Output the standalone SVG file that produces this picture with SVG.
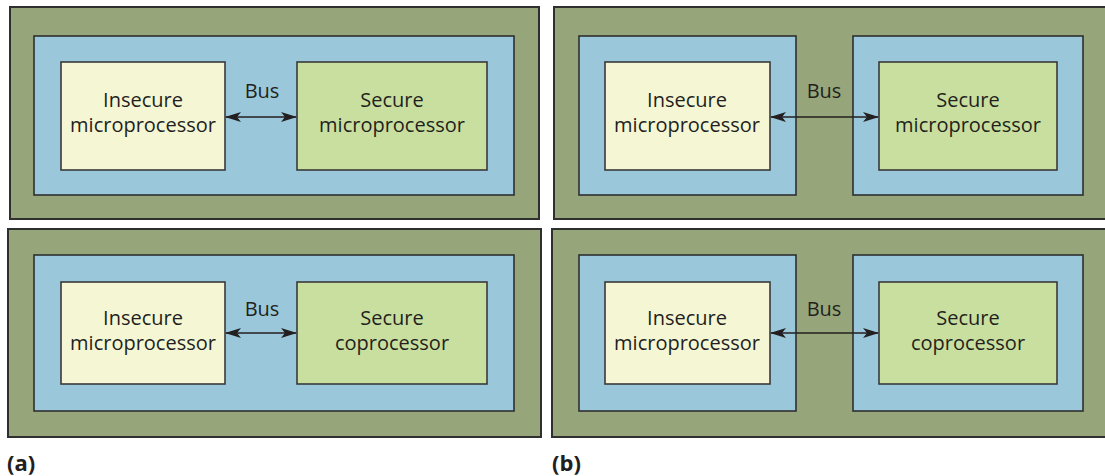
<svg xmlns="http://www.w3.org/2000/svg" width="1105" height="476" viewBox="0 0 1105 476">
<style>
.outer{fill:#97a67a;stroke:#2f2f2f;stroke-width:2}
.blue{fill:#9ac8da;stroke:#2f2f2f;stroke-width:1.6}
.ins{fill:#f5f6d4;stroke:#3a3a3a;stroke-width:1.6}
.sec{fill:#c9df9f;stroke:#3a3a3a;stroke-width:1.6}
.t{font-family:"Open Sans","Liberation Sans",sans-serif;font-size:20px;fill:#231f20;text-anchor:middle}
.lbl{font-family:"Open Sans","Liberation Sans",sans-serif;font-size:22px;font-weight:bold;fill:#231f20}
.bus{stroke:#231f20;stroke-width:1.6;fill:none;marker-start:url(#ah);marker-end:url(#ah)}
</style>
<defs>
<marker id="ah" viewBox="0 0 16 10" refX="15" refY="5" markerWidth="16" markerHeight="10" markerUnits="userSpaceOnUse" orient="auto-start-reverse">
<path d="M0,0 L16,5 L0,10 L4,5 Z" fill="#231f20"/>
</marker>
</defs>
<g id="panel-a-top">
<rect class="outer" x="10" y="7" width="529" height="212"/>
<rect class="blue" x="34" y="36" width="480" height="159"/>
</g>
<g id="a-top-insecure">
<rect class="ins" x="61" y="62" width="164" height="108"/>
<text class="t" x="143" y="107">Insecure</text>
<text class="t" x="143" y="132">microprocessor</text>
</g>
<g id="a-top-secure">
<rect class="sec" x="297" y="62" width="190" height="108"/>
<text class="t" x="392" y="107">Secure</text>
<text class="t" x="392" y="132">microprocessor</text>
</g>
<g id="panel-a-bottom">
<rect class="outer" x="8" y="229" width="533" height="208"/>
<rect class="blue" x="34" y="255" width="480" height="156"/>
</g>
<g id="a-bot-insecure">
<rect class="ins" x="61" y="282" width="164" height="102"/>
<text class="t" x="143" y="325">Insecure</text>
<text class="t" x="143" y="350">microprocessor</text>
</g>
<g id="a-bot-secure">
<rect class="sec" x="297" y="282" width="190" height="102"/>
<text class="t" x="392" y="325">Secure</text>
<text class="t" x="392" y="350">coprocessor</text>
</g>
<g id="panel-b-top">
<rect class="outer" x="554" y="7" width="560" height="212"/>
<rect class="blue" x="579" y="36" width="217" height="159"/>
<rect class="blue" x="853" y="36" width="230" height="159"/>
</g>
<g id="b-top-insecure">
<rect class="ins" x="605" y="62" width="165" height="108"/>
<text class="t" x="687" y="107">Insecure</text>
<text class="t" x="687" y="132">microprocessor</text>
</g>
<g id="b-top-secure">
<rect class="sec" x="879" y="62" width="178" height="108"/>
<text class="t" x="968" y="107">Secure</text>
<text class="t" x="968" y="132">microprocessor</text>
</g>
<g id="panel-b-bottom">
<rect class="outer" x="552" y="229" width="560" height="208"/>
<rect class="blue" x="579" y="255" width="217" height="156"/>
<rect class="blue" x="853" y="255" width="230" height="156"/>
</g>
<g id="b-bot-insecure">
<rect class="ins" x="605" y="282" width="165" height="102"/>
<text class="t" x="687" y="325">Insecure</text>
<text class="t" x="687" y="350">microprocessor</text>
</g>
<g id="b-bot-secure">
<rect class="sec" x="879" y="282" width="178" height="102"/>
<text class="t" x="968" y="325">Secure</text>
<text class="t" x="968" y="350">coprocessor</text>
</g>
<g id="connectors">
<line class="bus" x1="226" y1="117" x2="296" y2="117"/>
<line class="bus" x1="226" y1="333" x2="296" y2="333"/>
<line class="bus" x1="771" y1="117" x2="878" y2="117"/>
<line class="bus" x1="771" y1="333" x2="878" y2="333"/>
<text class="t" x="262" y="98">Bus</text>
<text class="t" x="262" y="316">Bus</text>
<text class="t" x="824" y="98">Bus</text>
<text class="t" x="824" y="316">Bus</text>
</g>
<text class="lbl" x="7" y="471">(a)</text>
<text class="lbl" x="552" y="471">(b)</text>
</svg>
